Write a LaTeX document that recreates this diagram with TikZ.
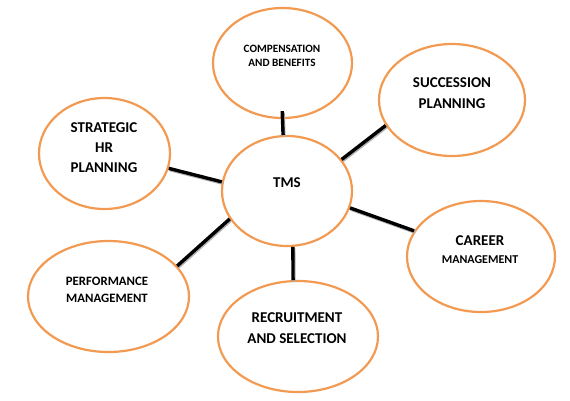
\documentclass[tikz,border=0pt]{standalone}
\usepackage{fontspec}
\setmainfont{Carlito}
\usetikzlibrary{shapes.geometric}
\definecolor{rimorange}{HTML}{F29A52}
\tikzset{
  bubble/.style={ellipse, draw=rimorange, line width=2.2pt, inner sep=0pt},
  tag/.style={align=center, text=black, font=\bfseries\fontsize{15}{21}\selectfont},
  link/.style={line width=3.4pt, preaction={draw=black!30, line width=3.4pt, transform canvas={xshift=0.9pt, yshift=-1.3pt}}}
}

\begin{document}
\begin{tikzpicture}[x=1pt, y=-1pt]
\useasboundingbox (0,0) rectangle (570,400);

% the bubbles
\node [bubble, minimum width=139pt, minimum height=110pt] (comp) at (282.5,63) {};
\node [bubble, minimum width=146pt, minimum height=112pt] (succ) at (452,100) {};
\node [bubble, minimum width=131pt, minimum height=111pt] (strat) at (104.5,153.5) {};
\node [bubble, minimum width=130pt, minimum height=110pt] (tms) at (287,191) {};
\node [bubble, minimum width=148pt, minimum height=111pt] (car) at (481,256.5) {};
\node [bubble, minimum width=161pt, minimum height=111pt] (perf) at (108.5,296.5) {};
\node [bubble, minimum width=160pt, minimum height=111pt] (recr) at (298,336.5) {};

% the texts
\node [tag, font=\bfseries\fontsize{11.2}{14}\selectfont] (comp-t) at (282,56) {COMPENSATION\\AND BENEFITS};
\node [tag] (succ-t) at (452,93) {SUCCESSION\\PLANNING};
\node [tag, font=\bfseries\fontsize{15}{20}\selectfont] (strat-t) at (104,148) {STRATEGIC\\HR\\PLANNING};
\node [tag] (tms-t) at (287,183) {TMS};
\node [tag, font=\bfseries\fontsize{12}{18}\selectfont] (car-t) at (480,250) {{\fontsize{15}{18}\selectfont CAREER}\\MANAGEMENT};
\node [tag, font=\bfseries\fontsize{12.8}{17}\selectfont] (perf-t) at (107,289.5) {PERFORMANCE\\MANAGEMENT};
\node [tag] (recr-t) at (297,328.5) {RECRUITMENT\\AND SELECTION};

% the links
\draw [link, shorten <=-8pt] (comp.270) -- (tms.94);
\draw [link] (tms.30) -- (succ.201);
\draw [link] (strat.-13) -- (tms.172);
\draw [link] (tms.-15.5) -- (car.159);
\draw [link] (tms.206) -- (perf.24);
\draw [link] (tms.276) -- (recr.95);
\end{tikzpicture}
\end{document}
